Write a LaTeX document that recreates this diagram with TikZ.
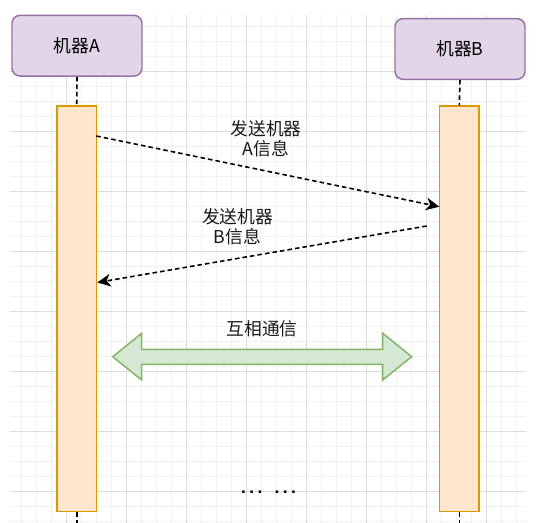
\documentclass[tikz,border=0pt]{standalone}
\usepackage{fontspec}
\setmainfont{Liberation Sans}
\newfontfamily\cjk{Noto Sans CJK SC}
\usetikzlibrary{arrows.meta}
\definecolor{gridmajor}{HTML}{DCDCDC}
\definecolor{gridminor}{HTML}{F2F2F2}
\definecolor{purplefill}{HTML}{E1D5E7}
\definecolor{purpleline}{HTML}{9673A6}
\definecolor{orangefill}{HTML}{FFE6CC}
\definecolor{orangeline}{HTML}{D79B00}
\definecolor{greenfill}{HTML}{D5E8D4}
\definecolor{greenline}{HTML}{82B366}
\tikzset{
  machine/.style={draw=purpleline, fill=purplefill, line width=1.1pt, rounded corners=6pt,
    minimum width=97.5pt, minimum height=45.5pt, inner sep=0pt,
    font=\cjk\fontsize{13.3}{15}\selectfont},
  actbar/.style={draw=orangeline, fill=orangefill, line width=1.1pt,
    minimum width=29.5pt, minimum height=304pt, inner sep=0pt},
  lifeline/.style={draw=black, line width=1.2pt, dash pattern=on 3.4pt off 2.3pt},
  msg/.style={draw=black, line width=1.2pt, dash pattern=on 3.4pt off 2.3pt,
    -{Stealth[length=10pt, width=9.5pt, inset=3pt]}},
  lbl/.style={align=center, inner sep=0pt, text=black!90,
    font=\cjk\fontsize{13.3}{15}\selectfont},
}
\begin{document}
\begin{tikzpicture}[x=0.75pt, y=-0.75pt]
\useasboundingbox (0,0) rectangle (539,523);
% grid
\foreach \i in {0,...,33} {
  \draw[gridminor, line width=0.75pt] ({21.667+15*\i},15) -- ({21.667+15*\i},523);
  \draw[gridminor, line width=0.75pt] (10,{26.667+15*\i}) -- (525.7,{26.667+15*\i});
}
\foreach \i in {0,...,7} {
  \draw[gridmajor, line width=0.75pt] ({66.667+60*\i},15) -- ({66.667+60*\i},523);
  \draw[gridmajor, line width=0.75pt] (10,{71.667+60*\i}) -- (525.7,{71.667+60*\i});
}
% machines
\node[machine] (ma) at (77,45.7) {机器A};
\node[machine] (mb) at (460,49) {机器B};
% activation bars
\node[actbar] (ra) at (76.7,308.7) {};
\node[actbar] (rb) at (459.3,308.7) {};
% lifelines
\coordinate (aend) at (76.7,523);
\coordinate (bend) at (459.3,523);
\draw[lifeline] (ma.south) -- (ra.north);
\draw[lifeline] (mb.south) -- (rb.north);
\draw[lifeline] (ra.south) -- (aend);
\draw[lifeline] (rb.south) -- (bend);
% messages
\coordinate (m1s) at (96.3,136);
\coordinate (m1e) at (439.3,206.7);
\coordinate (m2s) at (426.7,226);
\coordinate (m2e) at (97.3,282.5);
\draw[msg] (m1s) -- (m1e);
\draw[msg] (m2s) -- (m2e);
\node[lbl] (l1) at (266,138.5) {发送机器\\A信息};
\node[lbl] (l2) at (237.5,227) {发送机器\\B信息};
% double arrow
\draw[draw=greenline, fill=greenfill, line width=1.1pt, line join=miter]
  (112.7,356.7) -- (141.7,333.3) -- (141.7,349.3) -- (382.7,349.3) -- (382.7,333.3)
  -- (411.7,356.7) -- (382.7,380) -- (382.7,364.3) -- (141.7,364.3) -- (141.7,380) -- cycle;
\node[lbl] (l3) at (262,328.5) {互相通信};
% dots
\node[inner sep=0pt, font=\fontsize{13}{15}\selectfont\bfseries] (dots) at (268.5,492.5)
  {.\kern2.6pt.\kern2.6pt.\kern9.1pt.\kern2.6pt.\kern2.6pt.};
\end{tikzpicture}
\end{document}
